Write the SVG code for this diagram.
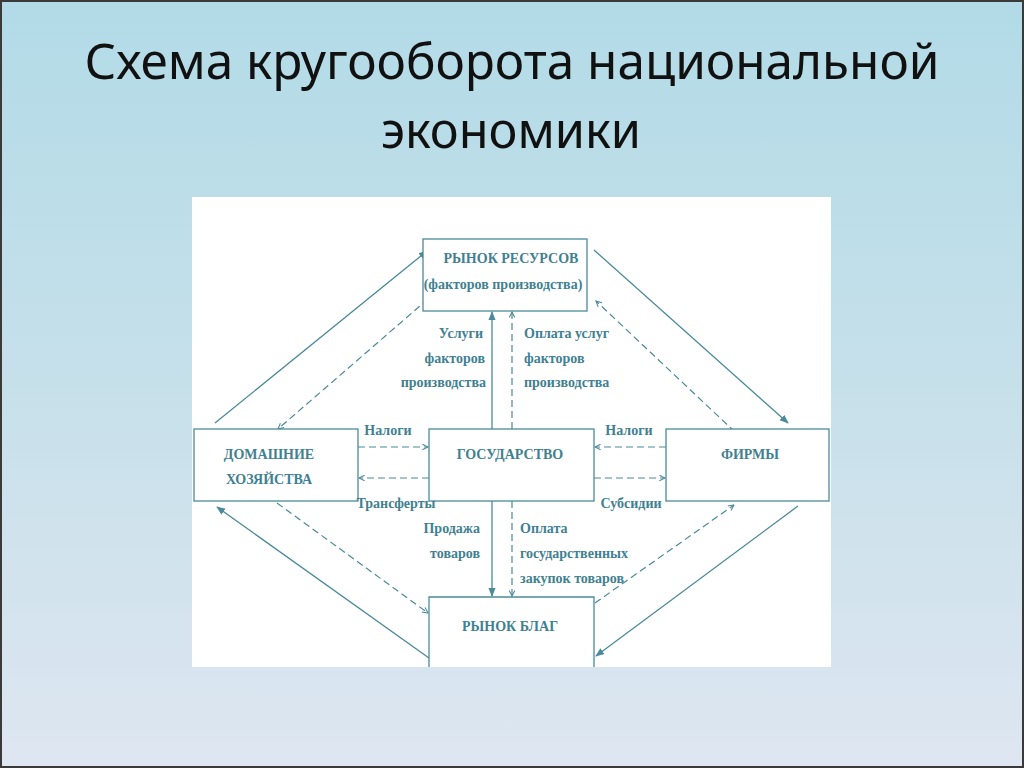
<svg xmlns="http://www.w3.org/2000/svg" width="1024" height="768" viewBox="0 0 1024 768">
<defs>
<linearGradient id="bg" x1="0" y1="0" x2="0" y2="1">
<stop offset="0" stop-color="#b2dbe7"/>
<stop offset="0.5" stop-color="#c6e0ea"/>
<stop offset="1" stop-color="#dee6f1"/>
</linearGradient>
<marker id="fa" viewBox="0 0 10 10" refX="9" refY="5" markerWidth="9" markerHeight="9" markerUnits="userSpaceOnUse" orient="auto">
<path d="M0,1 L10,5 L0,9 Z" fill="#4a8a9a"/>
</marker>
<marker id="oa" viewBox="0 0 10 10" refX="9" refY="5" markerWidth="7" markerHeight="7" markerUnits="userSpaceOnUse" orient="auto">
<path d="M1,1 L9,5 L1,9" fill="none" stroke="#4a8a9a" stroke-width="1.5"/>
</marker>
</defs>
<style>
.box{fill:#fff;stroke:#4a8a9a;stroke-width:1.3}
.t{font-family:"Liberation Serif","Times New Roman",serif;font-weight:bold;font-size:14px;fill:#3f8191}
.c{text-anchor:middle}
.r{text-anchor:end}
.s{stroke:#4a8a9a;stroke-width:1.3;fill:none;marker-end:url(#fa)}
.d{stroke:#4a8a9a;stroke-width:1.2;fill:none;stroke-dasharray:7 4;marker-end:url(#oa)}
.title{font-family:"Noto Sans","Open Sans",sans-serif;font-size:50px;fill:#111}
</style>
<rect x="0" y="0" width="1024" height="768" fill="url(#bg)"/>
<rect x="1" y="1" width="1022" height="766" fill="none" stroke="#3a3a3a" stroke-width="2"/>
<g id="title">
<text class="title" x="512" y="79" text-anchor="middle" textLength="855" lengthAdjust="spacingAndGlyphs">Схема кругооборота национальной</text>
<text class="title" x="511" y="148" text-anchor="middle" textLength="260" lengthAdjust="spacingAndGlyphs">экономики</text>
</g>
<rect x="192" y="197" width="639" height="470" fill="#fff"/>
<g id="connectors">
<line class="s" x1="215" y1="423" x2="427" y2="251"/>
<line class="d" x1="428" y1="299" x2="278" y2="429"/>
<line class="s" x1="594" y1="250" x2="788" y2="423"/>
<line class="d" x1="735" y1="432" x2="596" y2="301"/>
<line class="s" x1="492" y1="429" x2="492" y2="312"/>
<line class="d" x1="512" y1="429" x2="512" y2="312"/>
<line class="s" x1="492" y1="501" x2="492" y2="596"/>
<line class="d" x1="512" y1="501" x2="512" y2="596"/>
<line class="d" x1="358" y1="447" x2="428" y2="447"/>
<line class="d" x1="429" y1="478" x2="359" y2="478"/>
<line class="d" x1="666" y1="447" x2="595" y2="447"/>
<line class="d" x1="594" y1="478" x2="665" y2="478"/>
<line class="d" x1="277" y1="503" x2="428" y2="613"/>
<line class="s" x1="429" y1="658" x2="217" y2="507"/>
<line class="d" x1="595" y1="603" x2="734" y2="505"/>
<line class="s" x1="798" y1="506" x2="596" y2="656"/>
</g>
<g id="rynok-resursov">
<rect class="box" x="423" y="239" width="164" height="72"/>
<text class="t c" x="511" y="263">РЫНОК РЕСУРСОВ</text>
<text class="t c" x="503" y="289">(факторов производства)</text>
</g>
<g id="domashnie">
<rect class="box" x="194" y="429" width="164" height="72"/>
<text class="t c" x="269" y="459">ДОМАШНИЕ</text>
<text class="t c" x="269" y="484">ХОЗЯЙСТВА</text>
</g>
<g id="gosudarstvo">
<rect class="box" x="429" y="429" width="165" height="72"/>
<text class="t c" x="510" y="459">ГОСУДАРСТВО</text>
</g>
<g id="firmy">
<rect class="box" x="666" y="429" width="163" height="72"/>
<text class="t c" x="750" y="459">ФИРМЫ</text>
</g>
<g id="rynok-blag">
<path class="box" d="M429,667 V597 H594 V667"/>
<text class="t c" x="510" y="631">РЫНОК БЛАГ</text>
</g>
<g id="labels">
<text class="t r" x="483" y="338">Услуги</text>
<text class="t r" x="485" y="363">факторов</text>
<text class="t r" x="486" y="387">производства</text>
<text class="t" x="524" y="338">Оплата услуг</text>
<text class="t" x="524" y="363">факторов</text>
<text class="t" x="524" y="387">производства</text>
<text class="t c" x="388" y="435">Налоги</text>
<text class="t c" x="396" y="508">Трансферты</text>
<text class="t c" x="629" y="435">Налоги</text>
<text class="t c" x="631" y="508">Субсидии</text>
<text class="t r" x="480" y="533">Продажа</text>
<text class="t r" x="480" y="558">товаров</text>
<text class="t" x="520" y="533">Оплата</text>
<text class="t" x="520" y="558">государственных</text>
<text class="t" x="520" y="583">закупок товаров</text>
</g>
</svg>
